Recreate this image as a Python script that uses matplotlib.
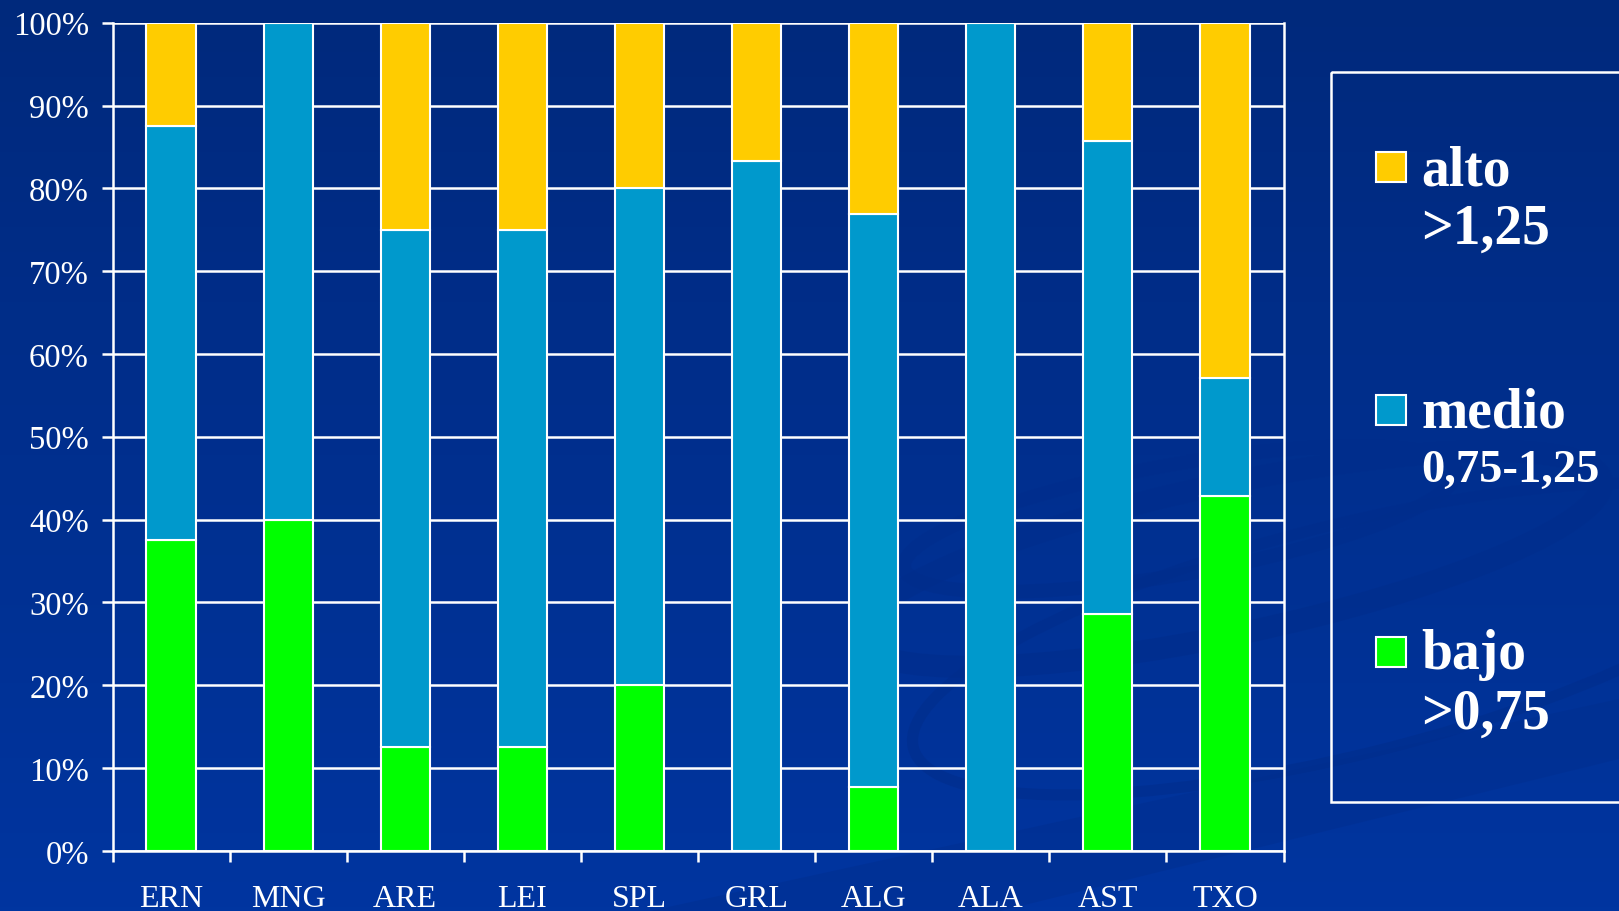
"""
Stacked percentage bars: alto / medio / bajo per station,
drawn on a dark blue slide-like background.
"""

import numpy as np
import matplotlib
matplotlib.use("Agg")
import matplotlib.pyplot as plt
from matplotlib.patches import Rectangle, Ellipse

# --- Data ---
stations = ["ERN", "MNG", "ARE", "LEI", "SPL", "GRL", "ALG", "ALA", "AST", "TXO"]
bajo = [37.5, 40.0, 12.5, 12.5, 20.0, 0.0, 7.7, 0.0, 28.6, 42.9]
medio = [50.0, 60.0, 62.5, 62.5, 60.0, 83.3, 69.2, 100.0, 57.1, 14.2]
alto = [12.5, 0.0, 25.0, 25.0, 20.0, 16.7, 23.1, 0.0, 14.3, 42.9]

y_ticks = [0, 10, 20, 30, 40, 50, 60, 70, 80, 90, 100]
legend_names = ["alto", "medio", "bajo"]
legend_ranges = [">1,25", "0,75-1,25", ">0,75"]

# --- Style ---
C_ALTO = "#FFCC00"
C_MEDIO = "#0099CC"
C_BAJO = "#00FF00"
BG_TOP = "#00297C"
BG_BOTTOM = "#0035A0"
W, H = 1619, 912

plt.rcParams["font.family"] = ["Liberation Serif", "DejaVu Serif"]

fig = plt.figure(figsize=(W / 100, H / 100), dpi=100)

# background gradient
bg = fig.add_axes([0, 0, 1, 1], zorder=-10)
top = np.array(matplotlib.colors.to_rgb(BG_TOP))
bot = np.array(matplotlib.colors.to_rgb(BG_BOTTOM))
t = np.linspace(0, 1, 256)[:, None]
grad = top[None, :] * (1 - t) + bot[None, :] * t
bg.imshow(grad[:, None, :], aspect="auto", extent=[0, W, H, 0])
bg.set_xlim(0, W)
bg.set_ylim(H, 0)
bg.axis("off")

# faint swirl decoration
swirl = "#002D8C"
for (cx, cy, w, h, ang, lw) in [(1230, 560, 760, 150, 12, 16),
                                (1180, 520, 560, 110, 10, 10),
                                (1350, 640, 900, 230, 14, 8)]:
    bg.add_patch(Ellipse((cx, cy), w, h, angle=-ang, fill=False,
                         edgecolor=swirl, lw=lw, alpha=0.6))
bg.fill([650, W, W, 1000], [H, 700, 760, H], color=swirl, alpha=0.4, lw=0)

# --- Chart ---
ax = fig.add_axes([112.5 / W, 1 - 851.8 / H, (1283.5 - 112.5) / W, (851.8 - 23.7) / H])
ax.patch.set_alpha(0)

x = np.arange(len(stations))
bw = 0.42
ax.bar(x, bajo, bw, color=C_BAJO, edgecolor="white", lw=1.5, zorder=3)
ax.bar(x, medio, bw, bottom=bajo, color=C_MEDIO, edgecolor="white", lw=1.5, zorder=3)
ax.bar(x, alto, bw, bottom=np.add(bajo, medio), color=C_ALTO, edgecolor="white",
       lw=1.5, zorder=3)

ax.set_xlim(-0.5, len(stations) - 0.5)
ax.set_ylim(0, 100)
ax.set_yticks(y_ticks)
ax.set_yticklabels([f"{v}%" for v in y_ticks])
ax.yaxis.grid(True, color="white", lw=1.8)
ax.set_axisbelow(True)

ax.set_xticks(x)
ax.set_xticklabels(stations)
ax.set_xticks(np.arange(-0.5, len(stations)), minor=True)
ax.tick_params(axis="x", which="major", length=0, pad=24, labelsize=23, colors="white")
ax.tick_params(axis="x", which="minor", length=8, width=1.8, color="white", direction="out")
ax.tick_params(axis="y", length=8, width=1.8, color="white", labelcolor="white",
               labelsize=23.5, pad=9)

for side in ["left", "right", "bottom"]:
    ax.spines[side].set_color("white")
    ax.spines[side].set_linewidth(1.8)
ax.spines["top"].set_visible(False)

# --- Legend (drawn by hand, box runs off the right edge) ---
box_left, box_top, box_bottom = 1331, 73, 803
bg.add_patch(Rectangle((box_left, box_top), W + 20 - box_left, box_bottom - box_top,
                       fill=False, edgecolor="white", lw=1.8, clip_on=False))

square_y = [168, 411, 653]
first_base = [186, 428, 669]
second_base = [244, 482, 729]
range_size = [40, 33.5, 40]
colors = [C_ALTO, C_MEDIO, C_BAJO]
for i in range(3):
    bg.add_patch(Rectangle((1376, square_y[i] - 15), 30, 30, facecolor=colors[i],
                           edgecolor="white", lw=1.5))
    bg.text(1421, first_base[i], legend_names[i], color="white", fontsize=40,
            fontweight="bold", va="baseline", ha="left")
    bg.text(1421, second_base[i], legend_ranges[i], color="white",
            fontsize=range_size[i], fontweight="bold", va="baseline", ha="left")

fig.savefig("out.png", dpi=100)
